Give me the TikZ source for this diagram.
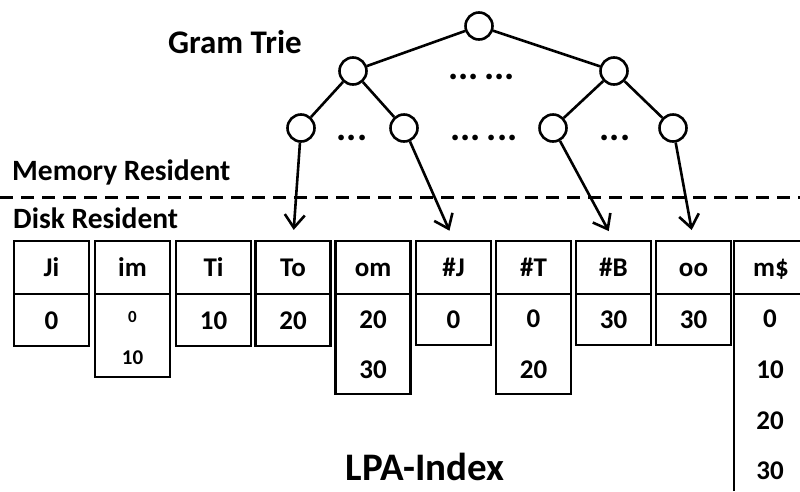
\documentclass[tikz,border=0pt]{standalone}
\usepackage{fontspec}
\setmainfont{Carlito}
\usetikzlibrary{arrows.meta}
\newcommand{\fsz}[1]{\fontsize{#1}{#1}\selectfont\bfseries}
\newcommand{\dotsthree}{...}
\tikzset{
  cell/.style={draw, line width=2.3pt, minimum width=75pt, inner sep=0pt, text height=18pt, text depth=0pt, font=\fsz{27}},
  num/.style={inner sep=0pt, text height=18pt, text depth=0pt, font=\fsz{27}},
  tnode/.style={draw, circle, line width=2.6pt, minimum size=27pt, inner sep=0pt},
  tedge/.style={line width=2.6pt},
  arr/.style={line width=2.6pt, -{Straight Barb[length=13pt,width=20pt,line width=2.6pt]}, shorten >=10pt},
  lbl/.style={inner sep=0pt, font=\fsz{29.5}},
  dots/.style={inner sep=0pt, anchor=base, font=\fsz{38}}
}
\begin{document}
\begin{tikzpicture}[x=1pt,y=-1pt]
\useasboundingbox (0,0) rectangle (800,491);
% labels
\node[inner sep=0pt, font=\fsz{33}] (gt) at (235,42) {Gram Trie};
\node[lbl, anchor=west] (mr) at (12,172) {Memory Resident};
\node[lbl, anchor=west] (dr) at (13,218) {Disk Resident};
\node[inner sep=0pt, font=\fsz{39}] (lpa) at (425,467) {LPA-Index};
% dashed separator
\coordinate (dl) at (0,197);
\coordinate (dr2) at (800,197);
\draw[line width=3pt, dash pattern=on 13pt off 8pt] (dl) -- (dr2);
% columns
\node[cell, minimum height=53pt] (hJi) at (51.5,267.5) {Ji};
\node[cell, minimum height=52pt] (vJi) at (51.5,320) {0};
\node[cell, minimum height=53pt] (him) at (132.5,267.5) {im};
\node[cell, minimum height=83pt] (vim) at (132.5,335.5) {};
\node[inner sep=0pt, font=\fsz{17}] (im1) at (132.5,317) {0};
\node[inner sep=0pt, font=\fsz{21}] (im2) at (132.5,358) {10};
\node[cell, minimum height=53pt] (hTi) at (213.5,267.5) {Ti};
\node[cell, minimum height=52pt] (vTi) at (213.5,320) {10};
\node[cell, minimum height=53pt] (hTo) at (293,267.5) {To};
\node[cell, minimum height=52pt] (vTo) at (293,320) {20};
\node[cell, minimum height=53pt] (hom) at (373,267.5) {om};
\node[cell, minimum height=100pt] (vom) at (373,344) {};
\node[num] (om1) at (373,319) {20};
\node[num] (om2) at (373,369) {30};
\node[cell, minimum height=53pt] (hJ) at (453.5,267.5) {\#J};
\node[cell, minimum height=51pt] (vJ) at (453.5,319.5) {0};
\node[cell, minimum height=53pt] (hT) at (533.5,267.5) {\#T};
\node[cell, minimum height=100pt] (vT) at (533.5,344) {};
\node[num] (T1) at (533.5,318) {0};
\node[num] (T2) at (533.5,369) {20};
\node[cell, minimum height=53pt] (hB) at (613.5,267.5) {\#B};
\node[cell, minimum height=51pt] (vB) at (613.5,319.5) {30};
\node[cell, minimum height=53pt] (hoo) at (693.5,267.5) {oo};
\node[cell, minimum height=51pt] (voo) at (693.5,319.5) {30};
% m$ column (cut by the right edge)
\coordinate (mbl) at (734,491);
\coordinate (mtl) at (734,241);
\coordinate (mtr) at (800,241);
\coordinate (mml) at (734,294);
\coordinate (mmr) at (800,294);
\draw[line width=2.3pt] (mbl) -- (mtl) -- (mtr);
\draw[line width=2.3pt] (mml) -- (mmr);
\node[num] (hm) at (771,267.5) {m\$};
\node[num] (m1) at (770,318) {0};
\node[num] (m2) at (770,369) {10};
\node[num] (m3) at (770,420) {20};
\node[num] (m4) at (770,470) {30};
% tree
\node[tnode] (root) at (479,26) {};
\node[tnode] (a) at (353,71) {};
\node[tnode] (b) at (614,71) {};
\node[tnode] (aa) at (301,128) {};
\node[tnode] (ab) at (404,128) {};
\node[tnode] (ba) at (553,128) {};
\node[tnode] (bb) at (673,128) {};
\draw[tedge] (root) -- (a);
\draw[tedge] (root) -- (b);
\draw[tedge] (a) -- (aa);
\draw[tedge] (a) -- (ab);
\draw[tedge] (b) -- (ba);
\draw[tedge] (b) -- (bb);
\node[dots] (d1) at (481.5,79) {\dotsthree\kern6pt\dotsthree};
\node[dots] (d2) at (484,140) {\dotsthree\kern6pt\dotsthree};
\node[dots] (d3) at (352,140) {\dotsthree};
\node[dots] (d4) at (615,140) {\dotsthree};
\draw[arr] (aa) -- (hTo.north);
\draw[arr] (ab) -- (hJ.north);
\draw[arr] (ba) -- (hB.north);
\draw[arr] (bb) -- (hoo.north);
\end{tikzpicture}
\end{document}
